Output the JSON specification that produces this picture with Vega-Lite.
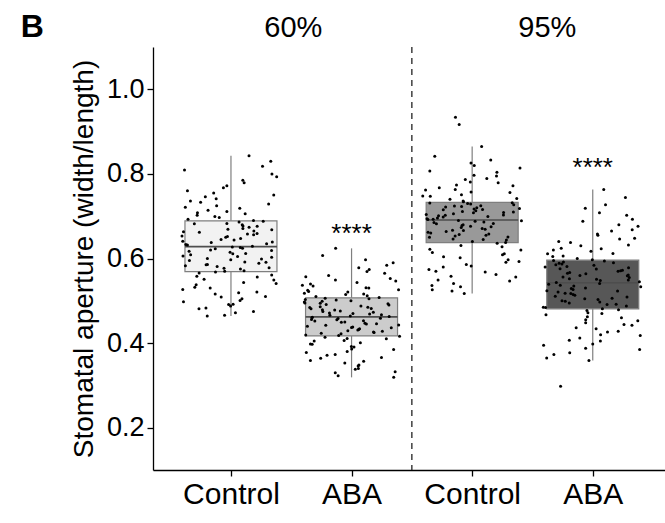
{
"$schema": "https://vega.github.io/schema/vega-lite/v6.json",
"width": 512, "height": 423,
"autosize": {"type": "none"},
"padding": {"left": 153, "top": 47, "right": 0, "bottom": 53},
"config": {"view": {"stroke": null}, "font": "Liberation Sans"},
"datasets": {
"one": [{}],
"box": [
{"g":1,"lo":0.464,"q1":0.569,"med":0.628,"q3":0.689,"hi":0.843},
{"g":2,"lo":0.319,"q1":0.417,"med":0.462,"q3":0.507,"hi":0.624},
{"g":3,"lo":0.517,"q1":0.6375,"med":0.691,"q3":0.7325,"hi":0.865},
{"g":4,"lo":0.359,"q1":0.481,"med":0.5425,"q3":0.596,"hi":0.763}
],
"pts": [
{"g":1,"v":0.464},{"g":1,"v":0.466},{"g":1,"v":0.472},{"g":1,"v":0.475},{"g":1,"v":0.481},{"g":1,"v":0.483},{"g":1,"v":0.488},{"g":1,"v":0.491},{"g":1,"v":0.492},{"g":1,"v":0.498},{"g":1,"v":0.501},{"g":1,"v":0.505},{"g":1,"v":0.509},{"g":1,"v":0.51},{"g":1,"v":0.516},{"g":1,"v":0.519},{"g":1,"v":0.521},{"g":1,"v":0.527},{"g":1,"v":0.53},{"g":1,"v":0.532},{"g":1,"v":0.538},{"g":1,"v":0.541},{"g":1,"v":0.543},{"g":1,"v":0.549},{"g":1,"v":0.551},{"g":1,"v":0.556},{"g":1,"v":0.558},{"g":1,"v":0.561},{"g":1,"v":0.566},{"g":1,"v":0.568},
{"g":1,"v":0.57},{"g":1,"v":0.571},{"g":1,"v":0.575},{"g":1,"v":0.577},{"g":1,"v":0.578},{"g":1,"v":0.581},{"g":1,"v":0.583},{"g":1,"v":0.585},{"g":1,"v":0.586},{"g":1,"v":0.589},{"g":1,"v":0.591},{"g":1,"v":0.592},{"g":1,"v":0.595},{"g":1,"v":0.597},{"g":1,"v":0.599},{"g":1,"v":0.6},{"g":1,"v":0.603},{"g":1,"v":0.605},{"g":1,"v":0.606},{"g":1,"v":0.609},{"g":1,"v":0.611},{"g":1,"v":0.612},{"g":1,"v":0.615},{"g":1,"v":0.617},{"g":1,"v":0.619},{"g":1,"v":0.62},{"g":1,"v":0.623},{"g":1,"v":0.624},{"g":1,"v":0.626},{"g":1,"v":0.627},
{"g":1,"v":0.629},{"g":1,"v":0.632},{"g":1,"v":0.633},{"g":1,"v":0.635},{"g":1,"v":0.638},{"g":1,"v":0.639},{"g":1,"v":0.641},{"g":1,"v":0.644},{"g":1,"v":0.645},{"g":1,"v":0.647},{"g":1,"v":0.65},{"g":1,"v":0.652},{"g":1,"v":0.653},{"g":1,"v":0.656},{"g":1,"v":0.658},{"g":1,"v":0.659},{"g":1,"v":0.662},{"g":1,"v":0.663},{"g":1,"v":0.665},{"g":1,"v":0.668},{"g":1,"v":0.669},{"g":1,"v":0.671},{"g":1,"v":0.674},{"g":1,"v":0.676},{"g":1,"v":0.677},{"g":1,"v":0.68},{"g":1,"v":0.682},{"g":1,"v":0.683},{"g":1,"v":0.686},{"g":1,"v":0.688},
{"g":1,"v":0.69},{"g":1,"v":0.693},{"g":1,"v":0.697},{"g":1,"v":0.699},{"g":1,"v":0.702},{"g":1,"v":0.706},{"g":1,"v":0.708},{"g":1,"v":0.711},{"g":1,"v":0.714},{"g":1,"v":0.719},{"g":1,"v":0.721},{"g":1,"v":0.725},{"g":1,"v":0.729},{"g":1,"v":0.733},{"g":1,"v":0.736},{"g":1,"v":0.741},{"g":1,"v":0.746},{"g":1,"v":0.75},{"g":1,"v":0.755},{"g":1,"v":0.76},{"g":1,"v":0.767},{"g":1,"v":0.772},{"g":1,"v":0.779},{"g":1,"v":0.785},{"g":1,"v":0.793},{"g":1,"v":0.8},{"g":1,"v":0.809},{"g":1,"v":0.818},{"g":1,"v":0.83},{"g":1,"v":0.843},
{"g":2,"v":0.319},{"g":2,"v":0.323},{"g":2,"v":0.33},{"g":2,"v":0.332},{"g":2,"v":0.338},{"g":2,"v":0.34},{"g":2,"v":0.346},{"g":2,"v":0.348},{"g":2,"v":0.353},{"g":2,"v":0.357},{"g":2,"v":0.359},{"g":2,"v":0.364},{"g":2,"v":0.366},{"g":2,"v":0.371},{"g":2,"v":0.373},{"g":2,"v":0.378},{"g":2,"v":0.38},{"g":2,"v":0.385},{"g":2,"v":0.386},{"g":2,"v":0.391},{"g":2,"v":0.392},{"g":2,"v":0.397},{"g":2,"v":0.398},{"g":2,"v":0.401},{"g":2,"v":0.405},{"g":2,"v":0.406},{"g":2,"v":0.41},{"g":2,"v":0.411},{"g":2,"v":0.414},{"g":2,"v":0.416},
{"g":2,"v":0.418},{"g":2,"v":0.419},{"g":2,"v":0.422},{"g":2,"v":0.423},{"g":2,"v":0.425},{"g":2,"v":0.426},{"g":2,"v":0.428},{"g":2,"v":0.429},{"g":2,"v":0.431},{"g":2,"v":0.432},{"g":2,"v":0.434},{"g":2,"v":0.436},{"g":2,"v":0.437},{"g":2,"v":0.438},{"g":2,"v":0.44},{"g":2,"v":0.442},{"g":2,"v":0.443},{"g":2,"v":0.445},{"g":2,"v":0.446},{"g":2,"v":0.447},{"g":2,"v":0.449},{"g":2,"v":0.45},{"g":2,"v":0.452},{"g":2,"v":0.453},{"g":2,"v":0.455},{"g":2,"v":0.456},{"g":2,"v":0.458},{"g":2,"v":0.459},{"g":2,"v":0.46},{"g":2,"v":0.461},
{"g":2,"v":0.463},{"g":2,"v":0.464},{"g":2,"v":0.466},{"g":2,"v":0.467},{"g":2,"v":0.469},{"g":2,"v":0.47},{"g":2,"v":0.471},{"g":2,"v":0.473},{"g":2,"v":0.475},{"g":2,"v":0.476},{"g":2,"v":0.478},{"g":2,"v":0.479},{"g":2,"v":0.481},{"g":2,"v":0.482},{"g":2,"v":0.484},{"g":2,"v":0.485},{"g":2,"v":0.486},{"g":2,"v":0.488},{"g":2,"v":0.49},{"g":2,"v":0.491},{"g":2,"v":0.493},{"g":2,"v":0.494},{"g":2,"v":0.495},{"g":2,"v":0.497},{"g":2,"v":0.499},{"g":2,"v":0.5},{"g":2,"v":0.502},{"g":2,"v":0.503},{"g":2,"v":0.505},{"g":2,"v":0.506},
{"g":2,"v":0.508},{"g":2,"v":0.51},{"g":2,"v":0.512},{"g":2,"v":0.515},{"g":2,"v":0.516},{"g":2,"v":0.518},{"g":2,"v":0.521},{"g":2,"v":0.522},{"g":2,"v":0.525},{"g":2,"v":0.526},{"g":2,"v":0.53},{"g":2,"v":0.531},{"g":2,"v":0.535},{"g":2,"v":0.537},{"g":2,"v":0.54},{"g":2,"v":0.543},{"g":2,"v":0.547},{"g":2,"v":0.549},{"g":2,"v":0.553},{"g":2,"v":0.557},{"g":2,"v":0.56},{"g":2,"v":0.565},{"g":2,"v":0.569},{"g":2,"v":0.574},{"g":2,"v":0.578},{"g":2,"v":0.584},{"g":2,"v":0.59},{"g":2,"v":0.597},{"g":2,"v":0.607},{"g":2,"v":0.624},
{"g":3,"v":0.517},{"g":3,"v":0.523},{"g":3,"v":0.526},{"g":3,"v":0.533},{"g":3,"v":0.536},{"g":3,"v":0.541},{"g":3,"v":0.547},{"g":3,"v":0.549},{"g":3,"v":0.556},{"g":3,"v":0.558},{"g":3,"v":0.562},{"g":3,"v":0.568},{"g":3,"v":0.57},{"g":3,"v":0.574},{"g":3,"v":0.58},{"g":3,"v":0.582},{"g":3,"v":0.586},{"g":3,"v":0.591},{"g":3,"v":0.593},{"g":3,"v":0.597},{"g":3,"v":0.602},{"g":3,"v":0.604},{"g":3,"v":0.609},{"g":3,"v":0.611},{"g":3,"v":0.614},{"g":3,"v":0.62},{"g":3,"v":0.622},{"g":3,"v":0.628},{"g":3,"v":0.631},{"g":3,"v":0.636},
{"g":3,"v":0.638},{"g":3,"v":0.64},{"g":3,"v":0.644},{"g":3,"v":0.645},{"g":3,"v":0.646},{"g":3,"v":0.65},{"g":3,"v":0.651},{"g":3,"v":0.653},{"g":3,"v":0.655},{"g":3,"v":0.657},{"g":3,"v":0.658},{"g":3,"v":0.66},{"g":3,"v":0.662},{"g":3,"v":0.664},{"g":3,"v":0.666},{"g":3,"v":0.667},{"g":3,"v":0.669},{"g":3,"v":0.671},{"g":3,"v":0.673},{"g":3,"v":0.675},{"g":3,"v":0.676},{"g":3,"v":0.678},{"g":3,"v":0.68},{"g":3,"v":0.682},{"g":3,"v":0.683},{"g":3,"v":0.685},{"g":3,"v":0.686},{"g":3,"v":0.688},{"g":3,"v":0.689},{"g":3,"v":0.69},
{"g":3,"v":0.692},{"g":3,"v":0.693},{"g":3,"v":0.694},{"g":3,"v":0.696},{"g":3,"v":0.698},{"g":3,"v":0.699},{"g":3,"v":0.701},{"g":3,"v":0.702},{"g":3,"v":0.703},{"g":3,"v":0.704},{"g":3,"v":0.706},{"g":3,"v":0.708},{"g":3,"v":0.709},{"g":3,"v":0.71},{"g":3,"v":0.711},{"g":3,"v":0.713},{"g":3,"v":0.715},{"g":3,"v":0.716},{"g":3,"v":0.717},{"g":3,"v":0.718},{"g":3,"v":0.72},{"g":3,"v":0.722},{"g":3,"v":0.723},{"g":3,"v":0.724},{"g":3,"v":0.725},{"g":3,"v":0.727},{"g":3,"v":0.729},{"g":3,"v":0.73},{"g":3,"v":0.731},{"g":3,"v":0.732},
{"g":3,"v":0.734},{"g":3,"v":0.736},{"g":3,"v":0.74},{"g":3,"v":0.742},{"g":3,"v":0.747},{"g":3,"v":0.748},{"g":3,"v":0.751},{"g":3,"v":0.756},{"g":3,"v":0.757},{"g":3,"v":0.762},{"g":3,"v":0.763},{"g":3,"v":0.767},{"g":3,"v":0.772},{"g":3,"v":0.774},{"g":3,"v":0.779},{"g":3,"v":0.781},{"g":3,"v":0.787},{"g":3,"v":0.789},{"g":3,"v":0.795},{"g":3,"v":0.797},{"g":3,"v":0.804},{"g":3,"v":0.807},{"g":3,"v":0.814},{"g":3,"v":0.82},{"g":3,"v":0.826},{"g":3,"v":0.833},{"g":3,"v":0.842},{"g":3,"v":0.865},{"g":3,"v":0.917},{"g":3,"v":0.934},
{"g":4,"v":0.298},{"g":4,"v":0.359},{"g":4,"v":0.365},{"g":4,"v":0.373},{"g":4,"v":0.377},{"g":4,"v":0.385},{"g":4,"v":0.388},{"g":4,"v":0.395},{"g":4,"v":0.398},{"g":4,"v":0.405},{"g":4,"v":0.407},{"g":4,"v":0.412},{"g":4,"v":0.418},{"g":4,"v":0.42},{"g":4,"v":0.426},{"g":4,"v":0.428},{"g":4,"v":0.434},{"g":4,"v":0.436},{"g":4,"v":0.442},{"g":4,"v":0.444},{"g":4,"v":0.448},{"g":4,"v":0.453},{"g":4,"v":0.455},{"g":4,"v":0.46},{"g":4,"v":0.462},{"g":4,"v":0.467},{"g":4,"v":0.47},{"g":4,"v":0.472},{"g":4,"v":0.477},{"g":4,"v":0.479},
{"g":4,"v":0.481},{"g":4,"v":0.484},{"g":4,"v":0.485},{"g":4,"v":0.488},{"g":4,"v":0.491},{"g":4,"v":0.492},{"g":4,"v":0.495},{"g":4,"v":0.497},{"g":4,"v":0.499},{"g":4,"v":0.5},{"g":4,"v":0.503},{"g":4,"v":0.505},{"g":4,"v":0.506},{"g":4,"v":0.509},{"g":4,"v":0.511},{"g":4,"v":0.513},{"g":4,"v":0.515},{"g":4,"v":0.517},{"g":4,"v":0.518},{"g":4,"v":0.521},{"g":4,"v":0.523},{"g":4,"v":0.524},{"g":4,"v":0.527},{"g":4,"v":0.529},{"g":4,"v":0.53},{"g":4,"v":0.533},{"g":4,"v":0.535},{"g":4,"v":0.537},{"g":4,"v":0.539},{"g":4,"v":0.541},
{"g":4,"v":0.543},{"g":4,"v":0.545},{"g":4,"v":0.548},{"g":4,"v":0.549},{"g":4,"v":0.551},{"g":4,"v":0.552},{"g":4,"v":0.555},{"g":4,"v":0.556},{"g":4,"v":0.559},{"g":4,"v":0.56},{"g":4,"v":0.561},{"g":4,"v":0.564},{"g":4,"v":0.565},{"g":4,"v":0.567},{"g":4,"v":0.57},{"g":4,"v":0.571},{"g":4,"v":0.572},{"g":4,"v":0.575},{"g":4,"v":0.576},{"g":4,"v":0.578},{"g":4,"v":0.58},{"g":4,"v":0.581},{"g":4,"v":0.584},{"g":4,"v":0.585},{"g":4,"v":0.587},{"g":4,"v":0.589},{"g":4,"v":0.59},{"g":4,"v":0.592},{"g":4,"v":0.594},{"g":4,"v":0.595},
{"g":4,"v":0.597},{"g":4,"v":0.6},{"g":4,"v":0.605},{"g":4,"v":0.606},{"g":4,"v":0.611},{"g":4,"v":0.612},{"g":4,"v":0.617},{"g":4,"v":0.62},{"g":4,"v":0.623},{"g":4,"v":0.624},{"g":4,"v":0.63},{"g":4,"v":0.632},{"g":4,"v":0.638},{"g":4,"v":0.64},{"g":4,"v":0.646},{"g":4,"v":0.648},{"g":4,"v":0.655},{"g":4,"v":0.658},{"g":4,"v":0.665},{"g":4,"v":0.668},{"g":4,"v":0.676},{"g":4,"v":0.68},{"g":4,"v":0.688},{"g":4,"v":0.693},{"g":4,"v":0.702},{"g":4,"v":0.708},{"g":4,"v":0.719},{"g":4,"v":0.727},{"g":4,"v":0.744},{"g":4,"v":0.763}
]
},
"encoding": {
"x": {"type": "quantitative", "scale": {"domain": [0.395, 4.5576], "nice": false, "zero": false},
 "axis": {"values": [1,2,3,4], "labelExpr": "datum.value % 2 == 1 ? 'Control' : 'ABA'", "title": null, "grid": false,
  "labelFontSize": 30, "labelColor": "#000", "domainColor": "#000", "domainWidth": 1.3, "tickColor": "#000", "tickWidth": 1.3, "tickSize": 6, "labelPadding": 3, "labelFlush": false}},
"y": {"type": "quantitative", "scale": {"domain": [0.1, 1.1], "nice": false, "zero": false},
 "axis": {"values": [0.2,0.4,0.6,0.8,1.0], "format": ".1f", "grid": false, "title": "Stomatal aperture (width/length)",
  "labelFontSize": 27, "labelColor": "#000", "domainColor": "#000", "domainWidth": 1.3, "tickColor": "#000", "tickWidth": 1.3, "tickSize": 6, "labelPadding": 3,
  "titleFontSize": 28, "titleFontWeight": "normal", "titleColor": "#000", "titlePadding": 8}}
},
"layer": [
{"data": {"name": "box"}, "mark": {"type": "rule", "color": "#7f7f7f", "strokeWidth": 1.2},
 "encoding": {"x": {"field": "g"}, "y": {"field": "lo"}, "y2": {"field": "hi"}}},
{"data": {"name": "box"}, "mark": {"type": "bar", "orient": "vertical", "width": 92, "stroke": "#7f7f7f", "strokeWidth": 1.2},
 "encoding": {"x": {"field": "g"}, "y": {"field": "q1"}, "y2": {"field": "q3"},
  "color": {"field": "g", "type": "nominal", "scale": {"domain": [1,2,3,4], "range": ["#f2f2f2", "#cccccc", "#999999", "#575757"]}, "legend": null}}},
{"data": {"name": "box"}, "mark": {"type": "tick", "orient": "horizontal", "size": 92, "thickness": 1.6, "color": "#4d4d4d", "opacity": 1},
 "encoding": {"x": {"field": "g"}, "y": {"field": "med"}}},
{"data": {"name": "pts"},
 "transform": [{"window": [{"op": "row_number", "as": "rn"}], "groupby": ["g"]},
  {"calculate": "datum.g + ((abs(sin(datum.rn * 12.9898 + datum.g * 78.233)) * 43758.5453) % 1 - 0.5) * 0.82", "as": "xj"}],
 "mark": {"type": "circle", "size": 9, "color": "#000", "opacity": 1},
 "encoding": {"x": {"field": "xj"}, "y": {"field": "v"}}},
{"data": {"name": "one"}, "mark": {"type": "rule", "strokeDash": [6, 5], "strokeWidth": 1.3, "color": "#222"},
 "encoding": {"x": {"datum": 2.5}}},
{"data": {"name": "one"}, "mark": {"type": "text", "text": "****", "fontSize": 26, "color": "#000", "baseline": "alphabetic"},
 "encoding": {"x": {"datum": 2}, "y": {"datum": 0.639}}},
{"data": {"name": "one"}, "mark": {"type": "text", "text": "****", "fontSize": 26, "color": "#000", "baseline": "alphabetic"},
 "encoding": {"x": {"datum": 4}, "y": {"datum": 0.794}}},
{"data": {"name": "one"}, "mark": {"type": "text", "text": "60%", "fontSize": 29, "color": "#000", "baseline": "alphabetic"},
 "encoding": {"x": {"datum": 1.517}, "y": {"datum": 1.1236}}},
{"data": {"name": "one"}, "mark": {"type": "text", "text": "95%", "fontSize": 29, "color": "#000", "baseline": "alphabetic"},
 "encoding": {"x": {"datum": 3.623}, "y": {"datum": 1.1236}}},
{"data": {"name": "one"}, "mark": {"type": "text", "text": "B", "fontSize": 32, "fontWeight": "bold", "color": "#000", "baseline": "alphabetic", "align": "left"},
 "encoding": {"x": {"datum": -0.743}, "y": {"datum": 1.1236}}}
]
}
